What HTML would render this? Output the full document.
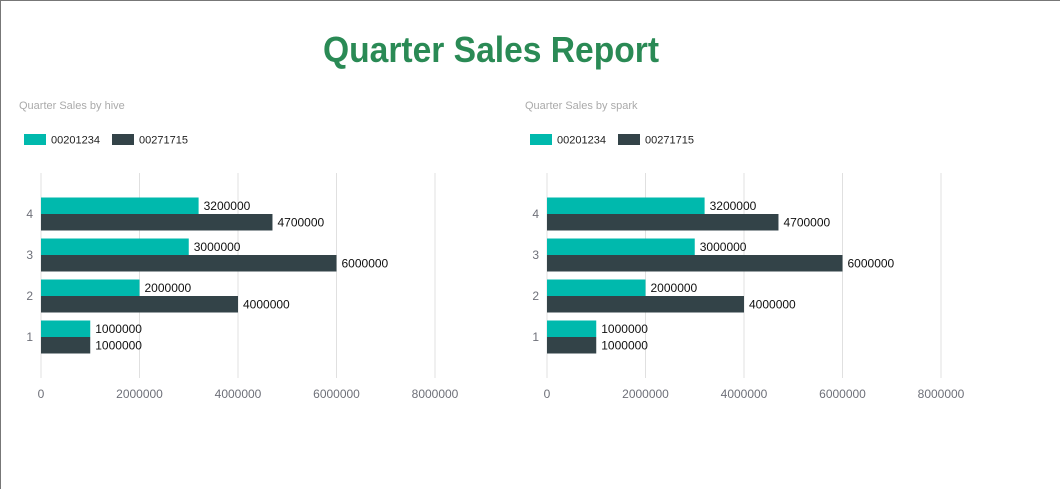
<!DOCTYPE html>
<html><head><meta charset="utf-8"><style>
html,body{margin:0;padding:0;background:#fff;}
body{width:1060px;height:489px;overflow:hidden;position:relative;}
#frame{position:absolute;left:0;top:0;width:1060px;height:489px;box-sizing:border-box;border-left:1px solid #777;border-top:1px solid #777;}
svg{position:absolute;left:0;top:0;font-family:"Liberation Sans",sans-serif;}
</style></head><body>
<div id="frame"></div>
<svg id="svg" width="1060" height="489">
<text x="491" y="62" text-anchor="middle" font-size="36" font-weight="bold" fill="#2a8a55" textLength="336" lengthAdjust="spacingAndGlyphs">Quarter Sales Report</text>
</svg>
<script>
const categories = ["1","2","3","4"];
const seriesNames = ["00201234","00271715"];
const hiveA = [1000000,2000000,3000000,3200000];
const hiveB = [1000000,4000000,6000000,4700000];
const sparkA = [1000000,2000000,3000000,3200000];
const sparkB = [1000000,4000000,6000000,4700000];
const xTicks = [0,2000000,4000000,6000000,8000000];
const colors = ["#00b9ad","#334348"];
const NS="http://www.w3.org/2000/svg";
const svg=document.getElementById('svg');
function mk(tag,attrs,parent,text){const e=document.createElementNS(NS,tag);for(const k in attrs)e.setAttribute(k,attrs[k]);if(text!==undefined)e.textContent=text;(parent||svg).appendChild(e);return e;}
function drawChart(ox,title,A,B,name){
  const g=mk('g',{});
  
  
  const x=v=>ox+41+v/2000000*98.5;
  const yc=i=>357.5-(i+0.5)*41;
  const t=mk('text',{x:ox+19,y:109,'font-size':11,fill:'#aaa'},g,title);
  
  
  const lx=[24,112];
  seriesNames.forEach((s,k)=>{
    const r=mk('rect',{x:ox+lx[k],y:134,width:22,height:11,fill:colors[k]},g);
    
    
    const lt=mk('text',{x:ox+lx[k]+27,y:143.5,'font-size':11,fill:'#222'},g,s);
    
    
  });
  xTicks.forEach(v=>{
    const l=mk('line',{x1:x(v),x2:x(v),y1:173,y2:378,stroke:'#e0e0e0','stroke-width':1},g);
    
    
    const tl=mk('text',{x:x(v),y:398,'font-size':12,fill:'#6e7079','text-anchor':'middle'},g,String(v));
    
    
  });
  categories.forEach((c,i)=>{
    const yl=mk('text',{x:ox+33,y:yc(i)+4,'font-size':12,fill:'#6e7079','text-anchor':'end'},g,c);
    
    
    [A,B].forEach((arr,k)=>{
      const top=yc(i)-16.5+k*16.5;
      const b=mk('rect',{x:x(0),y:top,width:x(arr[i])-x(0),height:16.5,fill:colors[k]},g);
      
      
      const v=mk('text',{x:x(arr[i])+5,y:top+12.5,'font-size':12,fill:'#111'},g,String(arr[i]));
      
      
    });
  });
}
drawChart(0,'Quarter Sales by hive',hiveA,hiveB,'hive-chart');
drawChart(506,'Quarter Sales by spark',sparkA,sparkB,'spark-chart');
</script>
</body></html>
